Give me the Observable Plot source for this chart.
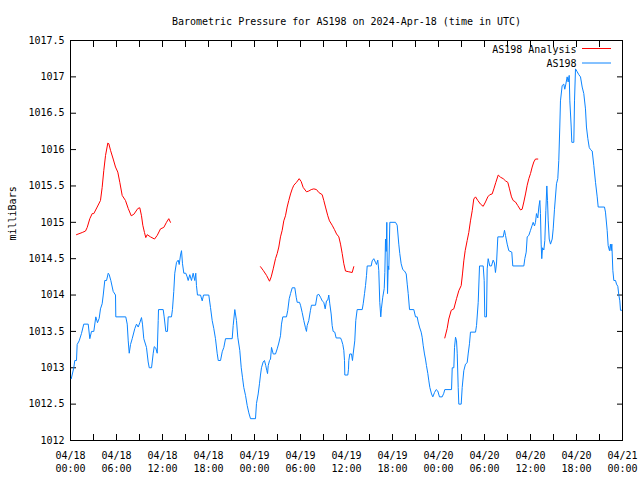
<!DOCTYPE html>
<html><head><meta charset="utf-8">
<script src="https://cdn.jsdelivr.net/npm/d3@7"></script>
<script src="https://cdn.jsdelivr.net/npm/@observablehq/plot@0.6"></script>
<style>
html,body{margin:0;padding:0;background:#fff}
svg{font-family:"DejaVu Sans Mono",monospace}
</style>
</head><body><div id="chart"></div>
<script>
const chartTitle = "Barometric Pressure for AS198 on 2024-Apr-18 (time in UTC)";
const yLabel = "milliBars";
const seriesNames = ["AS198 Analysis", "AS198"];
const seriesColors = ["#ff0000", "#0a84ff"];
const startUTC = "2024-04-18T00:00:00Z";
const xLabelHours = [0, 6, 12, 18, 24, 30, 36, 42, 48, 54, 60, 66, 72];
const xTickHours = [0, 3, 6, 9, 12, 15, 18, 21, 24, 27, 30, 33, 36, 39, 42, 45, 48, 51, 54, 57, 60, 63, 66, 69, 72];
const yTicks = [1012, 1012.5, 1013, 1013.5, 1014, 1014.5, 1015, 1015.5, 1016, 1016.5, 1017, 1017.5];

// AS198 observations: hours since start, pressure (mb)
const obsHours = [
 0.10,0.43,0.56,0.78,0.87,1.13,1.43,1.73,2.31,2.52,
 2.74,3.04,3.30,3.52,3.74,3.91,4.13,4.27,4.47,4.70,
 4.92,5.05,5.26,5.57,5.87,5.91,7.21,7.40,7.53,7.66,
 7.83,8.05,8.39,8.61,8.83,9.04,9.26,9.39,9.56,9.91,
 10.13,10.27,10.57,10.79,10.92,11.13,11.31,11.44,11.48,12.09,
 12.22,12.43,12.65,12.74,13.17,13.30,13.47,13.60,13.83,14.05,
 14.18,14.35,14.48,14.61,14.78,15.04,15.22,15.35,15.56,15.78,
 16.0,16.21,16.34,16.43,16.56,16.96,17.18,17.35,18.04,18.26,
 18.48,18.69,18.91,19.13,19.27,19.57,19.79,20.0,20.22,21.09,
 21.22,21.43,21.65,21.82,22.08,22.27,22.43,22.60,22.83,23.05,
 23.26,23.48,24.13,24.26,24.48,24.65,24.78,24.91,25.13,25.30,
 25.47,25.61,25.70,25.79,25.96,26.09,26.22,26.44,26.74,26.96,
 27.17,27.39,27.52,27.69,28.17,28.34,28.53,28.70,28.92,29.26,
 29.44,29.57,29.87,30.0,30.22,30.43,30.65,30.78,30.87,31.08,
 31.30,31.43,31.96,32.18,32.39,32.61,32.83,33.04,33.22,33.39,
 33.56,33.69,33.82,34.0,34.13,34.26,34.47,34.65,35.22,35.35,
 35.52,35.65,35.74,35.78,36.17,36.26,36.30,36.43,36.65,36.78,
 36.87,37.08,37.21,37.39,38.05,38.18,38.35,38.48,38.61,38.70,
 39.22,39.35,39.56,39.78,39.91,40.08,40.21,40.34,40.47,40.56,
 40.73,40.92,41.0,41.09,41.18,41.26,41.35,41.44,41.52,41.65,
 42.39,42.61,42.82,42.95,43.13,43.34,43.57,43.79,43.92,44.05,
 44.22,44.78,45.0,45.22,45.35,45.52,45.74,45.87,46.0,46.17,
 46.30,46.43,46.61,46.74,46.87,47.09,47.26,47.48,47.70,47.91,
 48.13,48.48,48.69,48.82,49.70,49.79,50.0,50.09,50.22,50.35,
 50.44,50.57,50.65,50.96,51.09,51.30,51.52,51.74,51.87,52.04,
 52.17,52.83,52.96,53.18,53.35,53.83,53.96,54.04,54.26,54.35,
 54.48,54.69,54.91,55.13,55.30,55.43,55.57,55.74,56.44,56.61,
 56.74,56.96,57.17,57.56,57.69,59.13,59.26,59.44,59.57,59.78,
 60.0,60.22,60.35,60.52,60.65,60.78,60.95,61.09,61.22,61.30,
 61.39,61.47,61.57,61.74,61.87,62.0,62.13,62.22,62.31,62.44,
 62.61,62.83,62.96,63.13,63.39,63.56,63.69,63.82,63.91,64.13,
 64.34,64.47,64.61,64.78,64.91,65.05,65.13,65.31,65.39,65.65,
 65.74,65.87,66.09,66.30,66.52,66.74,66.95,67.17,67.30,67.48,
 67.66,67.83,68.05,68.26,68.48,68.70,68.83,69.65,69.78,70.0,
 70.13,70.30,70.43,70.52,70.61,70.74,70.87,71.09,71.22,71.39,
 71.52,71.65,71.74,71.87
];
const obsValues = [
 1012.85,1013.0,1013.1,1013.1,1013.32,1013.37,1013.47,1013.6,1013.6,1013.4,
 1013.5,1013.5,1013.7,1013.62,1013.68,1013.81,1013.88,1014.0,1014.2,1014.2,
 1014.3,1014.28,1014.2,1014.05,1014.0,1013.7,1013.7,1013.6,1013.37,1013.2,
 1013.32,1013.4,1013.54,1013.6,1013.56,1013.62,1013.69,1013.6,1013.4,1013.28,
 1013.08,1013.0,1013.0,1013.2,1013.29,1013.27,1013.2,1013.65,1013.8,1013.8,
 1013.7,1013.5,1013.5,1013.7,1013.7,1013.8,1014.05,1014.3,1014.45,1014.48,
 1014.42,1014.55,1014.61,1014.43,1014.3,1014.3,1014.25,1014.2,1014.28,1014.2,
 1014.3,1014.2,1014.3,1014.13,1014.0,1014.0,1013.92,1014.0,1014.0,1013.83,
 1013.65,1013.54,1013.4,1013.2,1013.1,1013.1,1013.22,1013.28,1013.4,1013.4,
 1013.58,1013.8,1013.65,1013.42,1013.24,1013.0,1012.87,1012.73,1012.62,1012.48,
 1012.38,1012.3,1012.3,1012.51,1012.64,1012.78,1012.9,1013.0,1013.08,1013.1,
 1013.03,1012.96,1012.92,1013.03,1013.1,1013.12,1013.28,1013.19,1013.19,1013.26,
 1013.34,1013.44,1013.6,1013.7,1013.7,1013.79,1013.95,1014.02,1014.1,1014.1,
 1013.97,1013.9,1013.9,1013.86,1013.76,1013.65,1013.55,1013.5,1013.58,1013.65,
 1013.79,1013.86,1013.86,1014.0,1014.01,1013.97,1013.92,1013.9,1013.81,1013.92,
 1013.93,1014.0,1013.88,1013.74,1013.58,1013.5,1013.49,1013.41,1013.41,1013.38,
 1013.32,1013.24,1013.1,1012.9,1012.9,1012.98,1013.1,1013.19,1013.19,1013.1,
 1013.19,1013.37,1013.65,1013.8,1013.8,1013.88,1014.02,1014.13,1014.27,1014.4,
 1014.4,1014.47,1014.5,1014.45,1014.42,1014.48,1014.34,1013.9,1013.7,1013.82,
 1013.97,1014.09,1014.31,1014.77,1014.6,1015.0,1014.02,1014.4,1014.35,1015.0,
 1015.0,1014.96,1014.7,1014.57,1014.43,1014.35,1014.33,1014.29,1014.15,1014.02,
 1013.8,1013.8,1013.7,1013.7,1013.63,1013.56,1013.49,1013.42,1013.31,1013.19,
 1013.12,1013.03,1012.92,1012.82,1012.73,1012.64,1012.6,1012.66,1012.7,1012.68,
 1012.6,1012.6,1012.65,1012.7,1012.7,1013.0,1013.0,1013.28,1013.42,1013.37,
 1013.2,1012.73,1012.5,1012.5,1012.73,1012.96,1013.05,1013.07,1013.19,1013.33,
 1013.49,1013.49,1013.58,1013.9,1014.4,1014.4,1014.2,1013.7,1013.7,1014.36,
 1014.5,1014.4,1014.4,1014.48,1014.44,1014.31,1014.44,1014.8,1014.8,1014.89,
 1014.82,1014.7,1014.61,1014.59,1014.4,1014.4,1014.5,1014.59,1014.8,1014.82,
 1014.89,1014.96,1015.0,1014.95,1015.0,1015.12,1015.06,1015.21,1015.3,1015.12,
 1014.7,1014.5,1014.65,1014.62,1014.75,1015.16,1015.5,1015.3,1015.02,1014.77,
 1014.7,1014.77,1014.91,1015.18,1015.53,1015.6,1015.85,1016.31,1016.67,1016.88,
 1016.9,1016.83,1016.9,1017.0,1016.93,1017.02,1016.67,1016.31,1016.1,1016.1,
 1016.67,1017.11,1017.07,1017.03,1017.0,1016.86,1016.77,1016.56,1016.31,1016.15,
 1016.03,1016.0,1015.98,1015.78,1015.55,1015.35,1015.21,1015.21,1015.14,1014.89,
 1014.68,1014.61,1014.7,1014.61,1014.7,1014.34,1014.2,1014.2,1014.15,1014.12,
 1014.0,1013.92,1013.79,1013.79
];

// AS198 Analysis: hours since start, pressure (mb); null = no analysis
const anaHours = [
 0.78,1.53,1.96,2.18,2.52,2.83,3.04,3.48,3.91,4.13,
 4.34,4.57,4.87,5.0,5.22,5.57,5.87,6.17,6.43,6.74,
 7.17,7.53,7.92,8.26,8.78,9.04,9.26,9.43,9.65,9.82,
 10.0,10.43,10.96,11.31,11.74,12.17,12.52,12.82,13.04,
 18,
 24.78,25.13,25.57,25.96,26.18,26.44,26.74,26.96,27.17,27.39,
 27.61,27.82,28.04,28.26,28.47,28.70,28.92,29.13,29.48,29.83,
 30.09,30.35,30.78,31.08,31.40,31.74,32.09,32.39,32.83,33.04,
 33.26,33.56,33.78,34.13,34.43,34.70,35.0,35.22,35.44,35.65,
 35.87,36.30,36.74,36.95,
 42,
 48.82,49.13,49.34,49.66,50.0,50.35,50.65,50.96,51.13,51.30,
 51.48,51.74,51.95,52.17,52.40,52.60,52.83,53.13,53.48,53.83,
 54.13,54.43,54.69,55.0,55.22,55.48,55.79,56.09,56.44,56.74,
 57.04,57.26,57.52,57.74,58.04,58.34,58.70,58.91,59.13,59.35,
 59.57,59.78,60.0,60.22,60.43,60.65,60.95
];
const anaValues = [
 1014.83,1014.86,1014.88,1014.93,1015.05,1015.12,1015.12,1015.21,1015.3,1015.48,
 1015.71,1015.92,1016.09,1016.08,1015.99,1015.87,1015.76,1015.69,1015.55,1015.37,
 1015.3,1015.19,1015.09,1015.11,1015.19,1015.2,1015.09,1014.96,1014.86,1014.79,
 1014.83,1014.8,1014.77,1014.82,1014.91,1014.93,1015.0,1015.05,1015.0,
 null,
 1014.39,1014.34,1014.27,1014.19,1014.25,1014.36,1014.5,1014.57,1014.66,1014.8,
 1014.89,1015.02,1015.09,1015.21,1015.3,1015.39,1015.46,1015.51,1015.55,1015.6,
 1015.56,1015.48,1015.42,1015.43,1015.45,1015.46,1015.45,1015.41,1015.38,1015.3,
 1015.21,1015.09,1015.02,1014.96,1014.9,1014.84,1014.8,1014.7,1014.57,1014.43,
 1014.33,1014.32,1014.31,1014.39,
 null,
 1013.41,1013.54,1013.67,1013.79,1013.81,1013.95,1014.06,1014.13,1014.29,1014.47,
 1014.61,1014.75,1014.86,1015.02,1015.16,1015.32,1015.35,1015.3,1015.25,1015.22,
 1015.28,1015.35,1015.38,1015.39,1015.46,1015.55,1015.65,1015.62,1015.6,1015.57,
 1015.55,1015.46,1015.35,1015.3,1015.28,1015.23,1015.17,1015.18,1015.28,1015.39,
 1015.51,1015.6,1015.67,1015.76,1015.83,1015.87,1015.87
];

const t0 = Date.parse(startUTC);
const toDate = h => new Date(t0 + h * 3600e3);
const obs = obsHours.map((h, i) => ({t: toDate(h), p: obsValues[i]}));
const ana = anaHours.map((h, i) => ({t: toDate(h), p: anaValues[i]}));
const xLabelDates = xLabelHours.map(toDate);
const xTickDates = xTickHours.map(toDate);
const fmtX = d3.utcFormat("%m/%d\n%H:%M");

const chart = Plot.plot({
  width: 640, height: 480,
  marginLeft: 70, marginRight: 18, marginTop: 40, marginBottom: 40,
  style: {fontFamily: "DejaVu Sans Mono", fontSize: "10px", background: "#fff", color: "#000"},
  x: {type: "utc", domain: [toDate(xLabelHours[0]), toDate(xLabelHours[xLabelHours.length - 1])]},
  y: {domain: [yTicks[0], yTicks[yTicks.length - 1]]},
  marks: [
    Plot.axisX({ticks: xTickDates, tickSize: -6, tickFormat: () => "", label: null}),
    Plot.axisX({anchor: "top", ticks: xTickDates, tickSize: -6, tickFormat: () => "", label: null}),
    Plot.axisX({ticks: xLabelDates, tickSize: 0, tickPadding: 9, lineHeight: 1.3, tickFormat: fmtX, label: null}),
    Plot.axisY({ticks: yTicks, tickSize: -6, tickFormat: () => "", label: null}),
    Plot.axisY({anchor: "right", ticks: yTicks, tickSize: -6, tickFormat: () => "", label: null}),
    Plot.axisY({ticks: yTicks, tickSize: 0, tickPadding: 6, tickFormat: d => String(d), label: null}),
    Plot.frame({stroke: "#000"}),
    Plot.line(ana, {x: "t", y: "p", stroke: seriesColors[0], strokeWidth: 1}),
    Plot.line(obs, {x: "t", y: "p", stroke: seriesColors[1], strokeWidth: 1}),
    Plot.text([chartTitle], {text: d => d, frameAnchor: "top", dy: -23}),
    Plot.text([yLabel], {text: d => d, frameAnchor: "left", rotate: -90, dx: -58}),
    Plot.text([seriesNames[0]], {text: d => d, frameAnchor: "top-right", textAnchor: "end", dx: -46, dy: 5}),
    Plot.text([seriesNames[1]], {text: d => d, frameAnchor: "top-right", textAnchor: "end", dx: -46, dy: 19})
  ]
});

// legend sample lines
const svg = d3.select(chart);
[0, 1].forEach(i => {
  svg.append("line")
    .attr("x1", 582).attr("x2", 611)
    .attr("y1", 48.5 + i * 14.5).attr("y2", 48.5 + i * 14.5)
    .attr("stroke", seriesColors[i]).attr("stroke-width", 1);
});
document.getElementById("chart").appendChild(chart);
</script>
</body></html>
